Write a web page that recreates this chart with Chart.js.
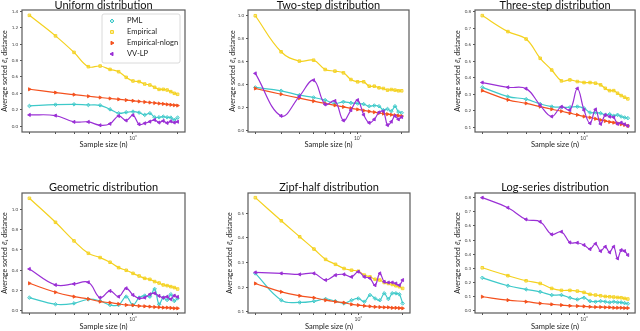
<!DOCTYPE html>
<html>
<head>
<meta charset="utf-8">
<script src="https://cdn.jsdelivr.net/npm/chart.js@4.4.1/dist/chart.umd.min.js"></script>
<style>
  html, body { margin: 0; padding: 0; background: #fff; }
  #wrap { position: relative; width: 640px; height: 331px; overflow: hidden; }
  canvas { position: absolute; }
</style>
</head>
<body>
<div id="wrap"></div>
<script>
/* Average sorted l1 distance vs sample size, six distributions */

const sampleSizes = [200, 300, 400, 500, 600, 700, 800, 900, 1000, 1100, 1200, 1300, 1400, 1500, 1600, 1700, 1800, 1900, 2000];
const xTickValues = [200, 300, 400, 500, 600, 700, 800, 900, 1000, 2000];
const xTickLabels = ['', '', '', '', '', '', '', '', '10³', ''];
const seriesNames = ['PML', 'Empirical', 'Empirical-nlogn', 'VV-LP'];

// Uniform
const uniformPML = [0.247, 0.263, 0.267, 0.259, 0.255, 0.206, 0.158, 0.17, 0.178, 0.166, 0.138, 0.158, 0.109, 0.109, 0.117, 0.109, 0.105, 0.077, 0.105];
const uniformEmpirical = [1.35, 1.10, 0.899, 0.725, 0.733, 0.692, 0.664, 0.595, 0.551, 0.543, 0.514, 0.502, 0.474, 0.449, 0.449, 0.441, 0.421, 0.401, 0.389];
const uniformNlogn = [0.45, 0.41, 0.385, 0.365, 0.35, 0.338, 0.328, 0.318, 0.31, 0.302, 0.295, 0.289, 0.283, 0.277, 0.272, 0.266, 0.261, 0.256, 0.252];
const uniformVVLP = [0.138, 0.13, 0.053, 0.053, 0.012, 0.03, 0.125, 0.07, 0.135, 0.024, 0.036, 0.057, 0.077, 0.045, 0.065, 0.04, 0.06, 0.045, 0.055];
const uniformTicks = [0, 0.2, 0.4, 0.6, 0.8, 1.0, 1.2, 1.4];

// Two-step
const twoStepPML = [0.377, 0.348, 0.31, 0.29, 0.267, 0.238, 0.252, 0.243, 0.238, 0.232, 0.214, 0.22, 0.214, 0.18, 0.19, 0.171, 0.214, 0.165, 0.157];
const twoStepEmpirical = [1.0, 0.687, 0.606, 0.614, 0.533, 0.519, 0.504, 0.446, 0.426, 0.426, 0.388, 0.388, 0.374, 0.368, 0.354, 0.359, 0.354, 0.348, 0.348];
const twoStepNlogn = [0.368, 0.318, 0.284, 0.258, 0.238, 0.222, 0.208, 0.196, 0.186, 0.177, 0.169, 0.162, 0.156, 0.15, 0.145, 0.14, 0.136, 0.132, 0.128];
const twoStepVVLP = [0.499, 0.13, 0.30, 0.44, 0.229, 0.26, 0.09, 0.18, 0.267, 0.14, 0.07, 0.10, 0.16, 0.17, 0.05, 0.08, 0.13, 0.10, 0.12];
const twoStepTicks = [0, 0.2, 0.4, 0.6, 0.8, 1.0];

// Three-step
const threeStepPML = [0.342, 0.286, 0.27, 0.241, 0.225, 0.221, 0.221, 0.225, 0.215, 0.189, 0.189, 0.185, 0.175, 0.179, 0.169, 0.175, 0.165, 0.159, 0.155];
const threeStepEmpirical = [0.777, 0.68, 0.635, 0.518, 0.447, 0.381, 0.387, 0.377, 0.371, 0.371, 0.367, 0.357, 0.336, 0.322, 0.322, 0.306, 0.292, 0.282, 0.272];
const threeStepNlogn = [0.322, 0.266, 0.245, 0.225, 0.209, 0.197, 0.185, 0.175, 0.165, 0.159, 0.151, 0.144, 0.138, 0.132, 0.128, 0.124, 0.118, 0.114, 0.108];
const threeStepVVLP = [0.371, 0.342, 0.334, 0.233, 0.165, 0.224, 0.204, 0.335, 0.204, 0.124, 0.208, 0.12, 0.174, 0.164, 0.16, 0.12, 0.128, 0.118, 0.108];
const threeStepTicks = [0.1, 0.2, 0.3, 0.4, 0.5, 0.6, 0.7, 0.8];

// Geometric
const geometricPML = [0.131, 0.066, 0.075, 0.115, 0.098, 0.059, 0.059, 0.141, 0.059, 0.131, 0.151, 0.141, 0.216, 0.066, 0.131, 0.108, 0.164, 0.098, 0.125];
const geometricEmpirical = [1.108, 0.872, 0.689, 0.567, 0.525, 0.479, 0.426, 0.4, 0.37, 0.344, 0.321, 0.311, 0.289, 0.275, 0.256, 0.249, 0.239, 0.23, 0.216];
const geometricNlogn = [0.272, 0.184, 0.141, 0.118, 0.092, 0.082, 0.069, 0.059, 0.056, 0.049, 0.046, 0.043, 0.039, 0.036, 0.033, 0.033, 0.03, 0.026, 0.026];
const geometricVVLP = [0.413, 0.256, 0.266, 0.282, 0.131, 0.197, 0.141, 0.223, 0.157, 0.125, 0.131, 0.164, 0.174, 0.148, 0.131, 0.141, 0.115, 0.151, 0.138];
const geometricTicks = [0, 0.2, 0.4, 0.6, 0.8, 1.0];

// Zipf-half
const zipfPML = [0.256, 0.147, 0.138, 0.143, 0.152, 0.143, 0.134, 0.147, 0.154, 0.141, 0.168, 0.154, 0.147, 0.175, 0.152, 0.175, 0.175, 0.171, 0.134];
const zipfEmpirical = [0.564, 0.47, 0.405, 0.355, 0.313, 0.293, 0.276, 0.269, 0.265, 0.249, 0.242, 0.232, 0.229, 0.219, 0.215, 0.211, 0.206, 0.202, 0.195];
const zipfNlogn = [0.215, 0.181, 0.165, 0.157, 0.147, 0.141, 0.137, 0.13, 0.127, 0.124, 0.122, 0.12, 0.119, 0.118, 0.118, 0.116, 0.116, 0.115, 0.114];
const zipfVVLP = [0.26, 0.256, 0.252, 0.256, 0.229, 0.249, 0.252, 0.242, 0.263, 0.242, 0.236, 0.208, 0.256, 0.222, 0.219, 0.219, 0.215, 0.208, 0.229];
const zipfTicks = [0.1, 0.2, 0.3, 0.4, 0.5];

// Log-series
const logSeriesPML = [0.233, 0.177, 0.151, 0.134, 0.111, 0.111, 0.092, 0.08, 0.092, 0.068, 0.064, 0.068, 0.064, 0.059, 0.064, 0.059, 0.059, 0.054, 0.05];
const logSeriesEmpirical = [0.304, 0.248, 0.212, 0.193, 0.158, 0.144, 0.144, 0.139, 0.13, 0.116, 0.111, 0.106, 0.101, 0.099, 0.097, 0.094, 0.092, 0.087, 0.083];
const logSeriesNlogn = [0.099, 0.075, 0.064, 0.052, 0.045, 0.04, 0.035, 0.033, 0.031, 0.028, 0.026, 0.026, 0.024, 0.024, 0.021, 0.021, 0.021, 0.019, 0.019];
const logSeriesVVLP = [0.80, 0.729, 0.646, 0.63, 0.54, 0.559, 0.483, 0.481, 0.465, 0.436, 0.474, 0.422, 0.453, 0.413, 0.453, 0.37, 0.429, 0.422, 0.394];
const logSeriesTicks = [0, 0.1, 0.2, 0.3, 0.4, 0.5, 0.6, 0.7, 0.8];

const COLORS = ['#3ec9c9', '#f4d11e', '#f4511e', '#9a2fd5'];
const FILLS = ['rgba(62,201,201,0.35)', 'rgba(244,209,30,0.35)', '#f4511e', '#9a2fd5'];
const STYLES = [
  { pointStyle: 'rectRot', rotation: 0 },
  { pointStyle: 'rect', rotation: 0 },
  { pointStyle: 'triangle', rotation: 90 },
  { pointStyle: 'triangle', rotation: -90 },
];
const FONT = 'Lato, "DejaVu Sans", sans-serif';

// box / area = page pixels, [x, y, w, h] and [left, top, right, bottom]
const panels = [
  { title: 'Uniform distribution', box: [0, 0, 213, 166], area: [22, 10, 185, 132], yMin: -0.07, yMax: 1.415,
    yTicks: uniformTicks, series: [uniformPML, uniformEmpirical, uniformNlogn, uniformVVLP], ylabelX: 5, legend: true },
  { title: 'Two-step distribution', box: [213, 0, 213, 166], area: [248, 10, 409, 132], yMin: -0.01, yMax: 1.05,
    yTicks: twoStepTicks, series: [twoStepPML, twoStepEmpirical, twoStepNlogn, twoStepVVLP], ylabelX: 233 },
  { title: 'Three-step distribution', box: [426, 0, 214, 166], area: [475, 10, 637, 132], yMin: 0.071, yMax: 0.811,
    yTicks: threeStepTicks, series: [threeStepPML, threeStepEmpirical, threeStepNlogn, threeStepVVLP], ylabelX: 458 },
  { title: 'Geometric distribution', box: [0, 166, 213, 165], area: [22, 193, 185, 313], yMin: -0.02, yMax: 1.16,
    yTicks: geometricTicks, series: [geometricPML, geometricEmpirical, geometricNlogn, geometricVVLP], ylabelX: 5 },
  { title: 'Zipf-half distribution', box: [213, 166, 213, 165], area: [248, 193, 410, 313], yMin: 0.095, yMax: 0.583,
    yTicks: zipfTicks, series: [zipfPML, zipfEmpirical, zipfNlogn, zipfVVLP], ylabelX: 230 },
  { title: 'Log-series distribution', box: [426, 166, 214, 165], area: [475, 193, 637, 313], yMin: -0.016, yMax: 0.833,
    yTicks: logSeriesTicks, series: [logSeriesPML, logSeriesEmpirical, logSeriesNlogn, logSeriesVVLP], ylabelX: 458 },
];

// title centred over the plot, full box frame, optional legend in the upper right
const framePlugin = {
  id: 'frame',
  afterDatasetsDraw(chart, args, opts) {
    const { ctx, chartArea: a } = chart;
    ctx.save();
    ctx.strokeStyle = '#5a5a5a';
    ctx.lineWidth = 1.2;
    ctx.strokeRect(a.left, a.top, a.right - a.left, a.bottom - a.top);

    ctx.fillStyle = '#111';
    ctx.font = '11px ' + FONT;
    ctx.textAlign = 'center';
    ctx.textBaseline = 'middle';
    ctx.fillText(opts.title, (a.left + a.right) / 2, opts.titleY);

    if (opts.legend) {
      const x0 = a.left + 80, y0 = a.top + 4, w = 78, h = 49;
      ctx.fillStyle = 'rgba(255,255,255,0.85)';
      ctx.strokeStyle = '#d0d0d0';
      ctx.lineWidth = 0.8;
      ctx.beginPath();
      ctx.roundRect(x0, y0, w, h, 2);
      ctx.fill();
      ctx.stroke();
      ctx.font = '7.5px ' + FONT;
      ctx.textAlign = 'left';
      seriesNames.forEach((name, i) => {
        const y = y0 + 7 + i * 11;
        ctx.fillStyle = FILLS[i];
        ctx.strokeStyle = COLORS[i];
        ctx.lineWidth = 1;
        Chart.helpers.drawPoint(ctx, { pointStyle: STYLES[i].pointStyle, rotation: STYLES[i].rotation, radius: 2, borderWidth: 1 }, x0 + 10, y);
        ctx.fillStyle = '#222';
        ctx.fillText(name, x0 + 25, y);
      });
    }
    ctx.restore();
  }
};

const wrap = document.getElementById('wrap');

panels.forEach(p => {
  const [bx, by, bw, bh] = p.box;
  const [al, at, ar, ab] = p.area;
  const canvas = document.createElement('canvas');
  canvas.width = bw;
  canvas.height = bh;
  canvas.style.left = bx + 'px';
  canvas.style.top = by + 'px';
  wrap.appendChild(canvas);

  const titleY = by === 0 ? 5 : 21;      // centre of title, canvas coords
  const xlabelY = by === 0 ? 145 : 161;  // centre of x label, canvas coords

  const datasets = p.series.map((vals, i) => ({
    label: seriesNames[i],
    data: sampleSizes.map((n, k) => ({ x: n, y: vals[k] })),
    borderColor: COLORS[i],
    backgroundColor: FILLS[i],
    pointBorderColor: COLORS[i],
    pointBackgroundColor: FILLS[i],
    pointStyle: STYLES[i].pointStyle,
    pointRotation: STYLES[i].rotation,
    pointRadius: 1.8,
    pointBorderWidth: 0.9,
    borderWidth: 1.2,
    tension: 0.4,
    fill: false,
    order: 3 - i,
  }));

  new Chart(canvas.getContext('2d'), {
    type: 'line',
    data: { datasets },
    plugins: [framePlugin],
    options: {
      responsive: false,
      animation: false,
      events: [],
      layout: { padding: { left: 0, top: at - by, right: bx + bw - ar, bottom: 0 } },
      plugins: {
        legend: { display: false },
        tooltip: { enabled: false },
        title: { display: false },
        frame: { legend: !!p.legend, title: p.title, titleY },
      },
      scales: {
        x: {
          type: 'logarithmic',
          min: 178.25,
          max: 2244,
          afterBuildTicks: s => { s.ticks = xTickValues.map(v => ({ value: v })); },
          afterFit: s => { s.height = by + bh - ab; },
          ticks: {
            autoSkip: false, maxRotation: 0, minRotation: 0, padding: 1,
            color: '#444', font: { family: FONT, size: 5 },
            callback: v => xTickLabels[xTickValues.indexOf(v)] || '',
          },
          grid: { drawOnChartArea: false, tickLength: 2, color: '#555' },
          border: { display: false },
          title: {
            display: true, text: 'Sample size (n)', color: '#222',
            font: { family: FONT, size: 7.5, lineHeight: '8px' },
            padding: { top: 0, bottom: bh - xlabelY - 4 },
          },
        },
        y: {
          min: p.yMin,
          max: p.yMax,
          afterBuildTicks: s => { s.ticks = p.yTicks.map(v => ({ value: v })); },
          afterFit: s => { s.width = al - bx; },
          ticks: {
            padding: 2, color: '#444', font: { family: FONT, size: 4.5 },
            callback: v => v.toFixed(1),
          },
          grid: { drawOnChartArea: false, tickLength: 2, color: '#555' },
          border: { display: false },
          title: {
            display: true, text: 'Average sorted ℓ₁ distance', color: '#222',
            font: { family: FONT, size: 7, lineHeight: '8px' },
            padding: { top: p.ylabelX - bx - 4, bottom: 0 },
          },
        },
      },
    },
  });
});
</script>
</body>
</html>
